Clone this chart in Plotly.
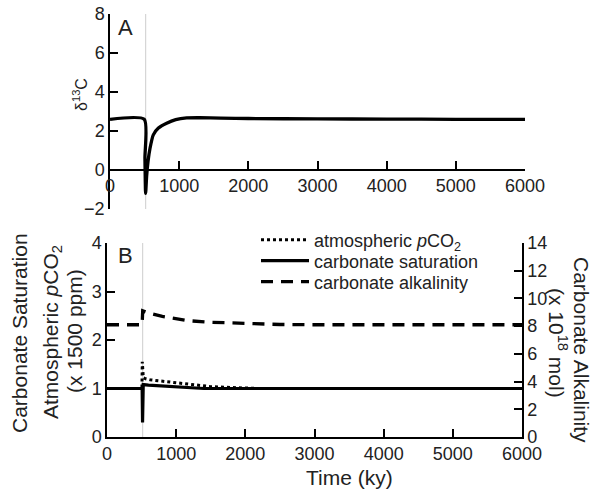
import plotly.graph_objects as go

W, H = 595, 492

# ---------------- data ----------------
event_time = 515  # grey marker of the perturbation (ky)

# Panel A: d13C
t_d13c = [0, 495, 505, 515, 530, 550, 578, 626, 700, 819, 950, 1108, 1300, 1600, 2000, 3000, 4000, 5000, 6000]
d13c = [2.6, 2.6, 0.6, -1.2, -0.3, 0.45, 1.1, 1.8, 2.15, 2.4, 2.58, 2.67, 2.68, 2.66, 2.64, 2.62, 2.61, 2.6, 2.6]

# Panel B: atmospheric pCO2 (x1500 ppm)
t_pco2 = [0, 505, 510, 516, 525, 560, 622, 863, 1152, 1489, 1800, 2200, 3000, 6000]
pco2 = [1.0, 1.0, 1.55, 1.35, 1.22, 1.2, 1.18, 1.14, 1.09, 1.04, 1.02, 1.0, 1.0, 1.0]

# Panel B: carbonate saturation
t_sat = [0, 508, 514, 518, 524, 600, 800, 1000, 1200, 1400, 2000, 6000]
sat = [1.0, 1.0, 0.3, 0.7, 1.08, 1.07, 1.05, 1.03, 1.01, 1.0, 1.0, 1.0]

# Panel B: carbonate alkalinity (x 10^18 mol, right axis)
t_alk = [0, 508, 516, 600, 800, 1000, 1160, 1490, 2000, 2500, 3000, 4000, 6000]
alk = [8.1, 8.1, 9.1, 8.95, 8.7, 8.5, 8.4, 8.28, 8.18, 8.12, 8.1, 8.1, 8.1]

x_ticks = [0, 1000, 2000, 3000, 4000, 5000, 6000]
yA_ticks = [-2, 0, 2, 4, 6, 8]
yB_ticks = [0, 1, 2, 3, 4]
yR_ticks = [0, 2, 4, 6, 8, 10, 12, 14]

FONT = "Liberation Sans, Arial, Helvetica, sans-serif"
TXT = "#222"

def px_x(p):
    return p / W

def px_y(p):
    return 1 - p / H

# domains (pixels)
A_top, A_bot = 14, 209
B_top, B_bot = 243, 437
A_left, A_right = 110, 525
B_left, B_right = 107, 522

A_dom = [px_y(A_bot), px_y(A_top)]
B_dom = [px_y(B_bot), px_y(B_top)]
yA_range = [-2, 8]
zero_pos = A_dom[0] + (0 - yA_range[0]) / (yA_range[1] - yA_range[0]) * (A_dom[1] - A_dom[0])

fig = go.Figure()

line_col = "black"
grey = "#d6d6d6"

# grey event lines
fig.add_trace(go.Scatter(x=[event_time, event_time], y=yA_range, mode="lines",
                         line=dict(color=grey, width=1.2), xaxis="x", yaxis="y",
                         showlegend=False, hoverinfo="skip"))
fig.add_trace(go.Scatter(x=[event_time, event_time], y=[0, 4], mode="lines",
                         line=dict(color=grey, width=1.2), xaxis="x2", yaxis="y2",
                         showlegend=False, hoverinfo="skip"))

fig.add_trace(go.Scatter(x=t_d13c, y=d13c, mode="lines",
                         line=dict(color=line_col, width=3.3, shape="spline", smoothing=0.6),
                         xaxis="x", yaxis="y", showlegend=False))

fig.add_trace(go.Scatter(x=t_pco2, y=pco2, mode="lines", line=dict(color=line_col, width=3, dash="dot"),
                         xaxis="x2", yaxis="y2", name="atmospheric <i>p</i>CO<sub>2</sub>", legend="legend"))
fig.add_trace(go.Scatter(x=t_sat, y=sat, mode="lines", line=dict(color=line_col, width=3.2),
                         xaxis="x2", yaxis="y2", name="carbonate saturation", legend="legend2"))
fig.add_trace(go.Scatter(x=t_alk, y=alk, mode="lines", line=dict(color=line_col, width=3.3, dash="12px,8px"),
                         xaxis="x2", yaxis="y3", name="carbonate alkalinity", legend="legend3"))

axis_common = dict(showgrid=False, zeroline=False, showline=True, linecolor="black", linewidth=1.5,
                   ticks="inside", ticklen=8, tickwidth=1.5, tickcolor="black", automargin=False,
                   tickfont=dict(family=FONT, size=18, color=TXT))

def leg(ypix):
    return dict(x=px_x(256), y=px_y(ypix), xanchor="left", yanchor="middle",
                font=dict(family=FONT, size=18, color=TXT), bgcolor="rgba(0,0,0,0)",
                borderwidth=0, itemwidth=48)

fig.update_layout(
    width=W, height=H,
    margin=dict(l=0, r=0, t=0, b=0, autoexpand=False),
    paper_bgcolor="white", plot_bgcolor="rgba(0,0,0,0)",
    font=dict(family=FONT, color=TXT),
    xaxis=dict(domain=[px_x(A_left), px_x(A_right)], range=[0, 6000], tickvals=x_ticks,
               anchor="free", position=zero_pos, **axis_common),
    yaxis=dict(domain=A_dom, range=yA_range, tickvals=yA_ticks, anchor="x", **axis_common),
    xaxis2=dict(domain=[px_x(B_left), px_x(B_right)], range=[0, 6000], tickvals=x_ticks,
                anchor="y2", **axis_common),
    yaxis2=dict(domain=B_dom, range=[0, 4], tickvals=yB_ticks, anchor="x2", **axis_common),
    yaxis3=dict(range=[0, 14], tickvals=yR_ticks, overlaying="y2", side="right", anchor="x2", **axis_common),
    legend=leg(240),
    legend2=leg(261),
    legend3=leg(282),
    showlegend=True,
)

ann = [
    dict(text="A", x=125, y=27, size=22),
    dict(text="B", x=125, y=255, size=22),
    dict(text="δ<sup>13</sup>C", x=80, y=95, size=16, angle=-90),
    dict(text="Carbonate Saturation", x=19, y=333, size=21, angle=-90),
    dict(text="Atmospheric <i>p</i>CO<sub>2</sub>", x=52, y=332, size=21, angle=-90),
    dict(text="(x 1500 ppm)", x=74, y=331, size=21, angle=-90),
    dict(text="Time (ky)", x=349, y=477, size=21),
    dict(text="Carbonate Alkalinity", x=582, y=350, size=21, angle=90),
    dict(text="(x 10<sup>18</sup> mol)", x=558, y=343, size=21, angle=90),
]
for a in ann:
    fig.add_annotation(xref="paper", yref="paper", showarrow=False, xanchor="center", yanchor="middle",
                       text=a["text"], x=px_x(a["x"]), y=px_y(a["y"]), textangle=a.get("angle", 0),
                       font=dict(family=FONT, color=TXT, size=a["size"]))

fig.write_html("out.html")
